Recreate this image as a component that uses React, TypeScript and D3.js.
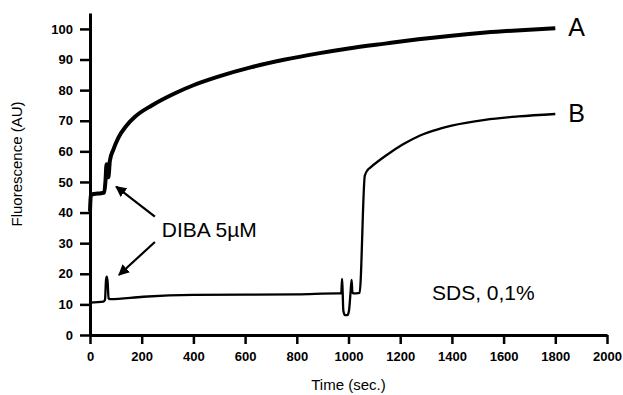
import React, { useEffect, useRef } from 'react';
import * as d3 from 'd3';

// Curve A: [time (sec), fluorescence (AU)]
const curveA: [number, number][] = [
  [0, 40.3], [3, 45.5], [10, 46], [30, 46.2], [55, 46.5], [60, 50.5], [64, 55.8],
  [67, 52], [71, 51.5], [77, 57], [90, 60.5], [110, 64.5], [140, 68.3], [174, 71.3],
  [239, 75.0], [329, 79.0], [400, 81.6], [496, 84.4], [625, 87.5], [750, 89.9],
  [883, 92.0], [1000, 93.6], [1141, 95.2], [1270, 96.6], [1399, 97.8], [1530, 98.8],
  [1650, 99.5], [1800, 100.2]
];

// Curve B
const curveB: [number, number][] = [
  [0, 10.6], [52, 10.9], [58, 11.5], [62, 18], [65, 19.1], [68, 17.5], [72, 12],
  [77, 11.7], [206, 12.5], [400, 13.1], [600, 13.2], [800, 13.3], [960, 13.6],
  [972, 13.6], [975, 18.3], [977, 15], [980, 8], [986, 6.5], [996, 6.5], [1002, 8],
  [1008, 14], [1012, 18], [1015, 14], [1018, 13.6], [1043, 13.8], [1063, 52],
  [1075, 54], [1083, 54.6], [1148, 58.8], [1211, 62.3], [1277, 65.2], [1354, 67.4],
  [1399, 68.4], [1528, 70.3], [1657, 71.4], [1800, 72.2]
];

const xTicks = [0, 200, 400, 600, 800, 1000, 1200, 1400, 1600, 1800, 2000];
const yTicks = [0, 10, 20, 30, 40, 50, 60, 70, 80, 90, 100];

// annotation arrows in data coords: [fromT, fromV, toT, toV]
const arrows: [number, number, number, number][] = [
  [251, 38.7, 101, 48.5],
  [251, 30.4, 112, 19.6]
];

const FONT = "'Liberation Sans', Arial, sans-serif";

const App = () => {
  const svgRef = useRef<SVGSVGElement>(null);

  useEffect(() => {
    const svg = d3.select(svgRef.current);
    svg.selectAll('*').remove();

    const x = d3.scaleLinear().domain([0, 2000]).range([90, 607]);
    const y = d3.scaleLinear().domain([0, 105.2]).range([335, 13]);

    svg.append('rect').attr('width', 623).attr('height', 395).attr('fill', '#fff');

    // arrow marker
    svg.append('defs').append('marker')
      .attr('id', 'arrowhead')
      .attr('viewBox', '0 0 10 10')
      .attr('refX', 9).attr('refY', 5)
      .attr('markerWidth', 5).attr('markerHeight', 5)
      .attr('markerUnits', 'strokeWidth')
      .attr('orient', 'auto')
      .append('path').attr('d', 'M0,0 L10,5 L0,10 z').attr('fill', '#000');

    // X axis
    const xAxis = svg.append('g')
      .attr('transform', `translate(0,${y(0)})`)
      .call(d3.axisBottom(x).tickValues(xTicks).tickFormat(d3.format('d'))
        .tickSize(9).tickSizeOuter(0).tickPadding(8));
    xAxis.select('.domain').attr('stroke-width', 3);
    xAxis.selectAll('.tick line').attr('stroke-width', 2.5);
    xAxis.selectAll('.tick text')
      .attr('font-family', FONT).attr('font-weight', 'bold').attr('font-size', 13).attr('fill', '#000');

    // Y axis
    const yAxis = svg.append('g')
      .attr('transform', `translate(${x(0)},0)`)
      .call(d3.axisLeft(y).tickValues(yTicks).tickFormat(d3.format('d'))
        .tickSize(10).tickSizeOuter(0).tickPadding(7));
    yAxis.select('.domain').attr('stroke-width', 3);
    yAxis.selectAll('.tick line').attr('stroke-width', 2.5);
    yAxis.selectAll('.tick text')
      .attr('font-family', FONT).attr('font-weight', 'bold').attr('font-size', 13).attr('fill', '#000');

    // axis titles
    svg.append('text')
      .attr('x', x(1000)).attr('y', 390)
      .attr('text-anchor', 'middle')
      .attr('font-family', FONT).attr('font-size', 15)
      .text('Time (sec.)');

    svg.append('text')
      .attr('transform', `translate(22,164) rotate(-90)`)
      .attr('text-anchor', 'middle')
      .attr('font-family', FONT).attr('font-size', 15)
      .text('Fluorescence (AU)');

    const line = d3.line<[number, number]>()
      .x(d => x(d[0]))
      .y(d => y(d[1]))
      .curve(d3.curveMonotoneX);

    svg.append('path').datum(curveA)
      .attr('fill', 'none').attr('stroke', '#000')
      .attr('stroke-width', 4).attr('stroke-linejoin', 'round')
      .attr('d', line);

    svg.append('path').datum(curveB)
      .attr('fill', 'none').attr('stroke', '#000')
      .attr('stroke-width', 2.3).attr('stroke-linejoin', 'round')
      .attr('d', line);

    // curve labels
    svg.append('text').attr('x', x(1850)).attr('y', y(97.7))
      .attr('font-family', FONT).attr('font-size', 25).text('A');
    svg.append('text').attr('x', x(1850)).attr('y', y(69.6))
      .attr('font-family', FONT).attr('font-size', 25).text('B');

    // annotations
    arrows.forEach(a => {
      svg.append('line')
        .attr('x1', x(a[0])).attr('y1', y(a[1]))
        .attr('x2', x(a[2])).attr('y2', y(a[3]))
        .attr('stroke', '#000').attr('stroke-width', 2.2)
        .attr('marker-end', 'url(#arrowhead)');
    });

    svg.append('text').attr('x', x(278)).attr('y', y(32))
      .attr('font-family', FONT).attr('font-size', 21).text('DIBA 5µM');

    svg.append('text').attr('x', x(1323)).attr('y', y(11.4))
      .attr('font-family', FONT).attr('font-size', 21).text('SDS, 0,1%');
  }, []);

  return (
    <svg ref={svgRef} width={623} height={395}
      style={{ position: 'absolute', left: 0, top: 0, display: 'block' }} />
  );
};

export default App;
